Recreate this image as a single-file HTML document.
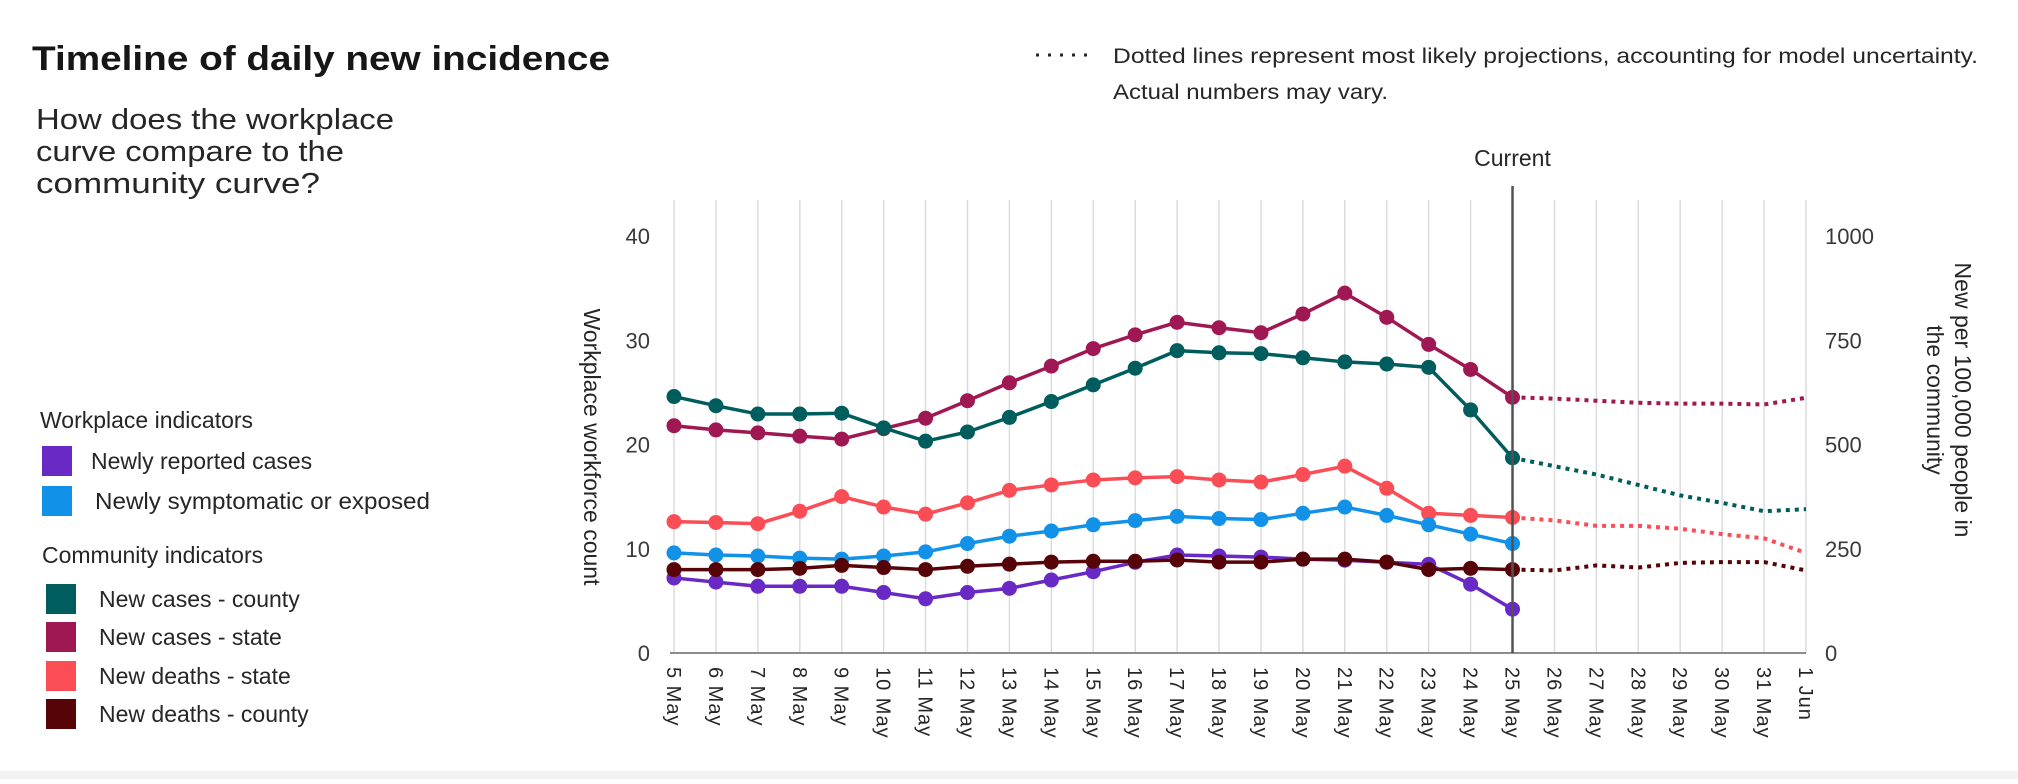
<!DOCTYPE html>
<html><head><meta charset="utf-8">
<style>
body{margin:0;background:#fff;width:2018px;height:779px;overflow:hidden;font-family:"Liberation Sans",sans-serif;}
svg text{font-family:"Liberation Sans",sans-serif;}
</style></head>
<body>
<svg id="chart" width="2018" height="779" viewBox="0 0 2018 779" xmlns="http://www.w3.org/2000/svg">
<rect x="0" y="771" width="2018" height="8" fill="#f2f2f2"/>
<text x="32" y="70" font-size="34" font-weight="bold" fill="#161616" textLength="578" lengthAdjust="spacingAndGlyphs">Timeline of daily new incidence</text>
<g font-size="29" fill="#262626">
<text x="36" y="129" textLength="358" lengthAdjust="spacingAndGlyphs">How does the workplace</text>
<text x="36" y="161" textLength="308" lengthAdjust="spacingAndGlyphs">curve compare to the</text>
<text x="36" y="193" textLength="284" lengthAdjust="spacingAndGlyphs">community curve?</text>
</g>
<g font-size="21" fill="#262626">
<line x1="1036" y1="55" x2="1092" y2="55" stroke="#262626" stroke-width="3" stroke-dasharray="3 9"/>
<text x="1113" y="63" textLength="865" lengthAdjust="spacingAndGlyphs">Dotted lines represent most likely projections,  accounting for model uncertainty.</text>
<text x="1113" y="99" textLength="275" lengthAdjust="spacingAndGlyphs">Actual numbers may vary.</text>
</g>
<g font-size="23" fill="#262626">
<text x="40" y="428">Workplace indicators</text>
<rect x="42" y="446" width="30" height="30" fill="#6929c4"/>
<text x="91" y="469">Newly reported cases</text>
<rect x="42" y="486" width="30" height="30" fill="#1192e8"/>
<text x="95" y="509" textLength="335" lengthAdjust="spacingAndGlyphs">Newly symptomatic or exposed</text>
<text x="42" y="563">Community indicators</text>
<rect x="46" y="584" width="30" height="30" fill="#005d5d"/>
<text x="99" y="607">New cases - county</text>
<rect x="46" y="622" width="30" height="30" fill="#9f1853"/>
<text x="99" y="645">New cases - state</text>
<rect x="46" y="661" width="30" height="30" fill="#fa4d56"/>
<text x="99" y="684">New deaths - state</text>
<rect x="46" y="699" width="30" height="30" fill="#570408"/>
<text x="99" y="722">New deaths - county</text>
</g>
<text transform="translate(584,447) rotate(90)" text-anchor="middle" font-size="23" fill="#262626">Workplace workforce count</text>
<text transform="translate(1955,400) rotate(90)" text-anchor="middle" font-size="23" fill="#262626">New per 100,000 people in</text>
<text transform="translate(1927,400) rotate(90)" text-anchor="middle" font-size="23" fill="#262626">the community</text>
<g id="plot"></g>
</svg>
<script>
const dates=["5 May","6 May","7 May","8 May","9 May","10 May","11 May","12 May","13 May","14 May","15 May","16 May","17 May","18 May","19 May","20 May","21 May","22 May","23 May","24 May","25 May","26 May","27 May","28 May","29 May","30 May","31 May","1 Jun"];
const leftTicks=[0,10,20,30,40];
const rightTicks=[0,250,500,750,1000];
const reported=[7.2,6.8,6.4,6.4,6.4,5.8,5.2,5.8,6.2,7.0,7.8,8.7,9.4,9.3,9.2,9.0,8.9,8.7,8.5,6.6,4.2];
const symptomatic=[9.6,9.4,9.3,9.1,9.0,9.3,9.7,10.5,11.2,11.7,12.3,12.7,13.1,12.9,12.8,13.4,14.0,13.2,12.3,11.4,10.5];
const countyCases=[615,593,573,573,575,540,508,530,565,603,643,683,725,720,718,708,698,693,685,583,468];
const countyCasesProj=[448,428,403,378,360,340,345];
const stateCases=[545,535,528,520,513,538,563,605,648,688,730,763,793,780,768,813,863,805,740,680,613];
const stateCasesProj=[610,605,600,598,598,596,612];
const stateDeaths=[315,313,310,340,375,350,333,360,390,403,415,420,423,415,410,428,448,395,335,330,325];
const stateDeathsProj=[318,305,305,298,285,275,240];
const countyDeaths=[200,200,200,203,210,205,200,208,213,218,220,220,223,218,218,225,225,218,200,203,200];
const countyDeathsProj=[198,210,205,216,218,218,198];
const currentIndex=20;

const NS="http://www.w3.org/2000/svg";
const plot=document.getElementById('plot');
const X0=674,X1=1806,Y0=653,YT=236,GT=200;
const xs=i=>X0+(X1-X0)*i/(dates.length-1);
const yL=v=>Y0-(Y0-YT)*v/40;
const yR=v=>Y0-(Y0-YT)*v/1000;
function mk(tag,attrs){const e=document.createElementNS(NS,tag);for(const k in attrs)e.setAttribute(k,attrs[k]);plot.appendChild(e);return e;}
dates.forEach((d,i)=>{
  const g=mk('line',{x1:xs(i),x2:xs(i),y1:GT,y2:Y0,stroke:'#dcdcdc','stroke-width':1.5});
  
  
  const t=mk('text',{transform:`translate(${xs(i)-7},${Y0+14}) rotate(90)`,'font-size':20,fill:'#262626','letter-spacing':'1'});
  t.textContent=d;
  
  
});
const ax=mk('line',{x1:X0-4,x2:X1,y1:Y0,y2:Y0,stroke:'#8d8d8d','stroke-width':2});


leftTicks.forEach(v=>{const t=mk('text',{x:650,y:yL(v)+8,'text-anchor':'end','font-size':22,fill:'#393939'});t.textContent=v;
  
  });
rightTicks.forEach(v=>{const t=mk('text',{x:1825,y:yR(v)+8,'font-size':22,fill:'#393939'});t.textContent=v;
  
  });
function series(vals,proj,yf,color,name){
  if(proj){
    const pts=[[xs(currentIndex),yf(vals[vals.length-1])]].concat(proj.map((v,j)=>[xs(currentIndex+1+j),yf(v)]));
    const p=mk('polyline',{points:pts.map(p=>p.join(',')).join(' '),fill:'none',stroke:color,'stroke-width':4,'stroke-dasharray':'4 5'});
    
    
  }
  const l=mk('polyline',{points:vals.map((v,i)=>xs(i)+','+yf(v)).join(' '),fill:'none',stroke:color,'stroke-width':3.5});
  
  
  vals.forEach((v,i)=>{const c=mk('circle',{cx:xs(i),cy:yf(v),r:7.5,fill:color});
    
    });
}
series(stateCases,stateCasesProj,yR,'#9f1853','state-cases');
series(countyCases,countyCasesProj,yR,'#005d5d','county-cases');
series(stateDeaths,stateDeathsProj,yR,'#fa4d56','state-deaths');
series(symptomatic,null,yL,'#1192e8','symptomatic');
series(reported,null,yL,'#6929c4','reported');
series(countyDeaths,countyDeathsProj,yR,'#570408','county-deaths');
const cl=mk('line',{x1:xs(currentIndex),x2:xs(currentIndex),y1:186,y2:Y0,stroke:'#525252','stroke-width':2.5});


const ct=mk('text',{x:xs(currentIndex),y:166,'text-anchor':'middle','font-size':23,fill:'#262626'});
ct.textContent='Current';


</script>
</body></html>
